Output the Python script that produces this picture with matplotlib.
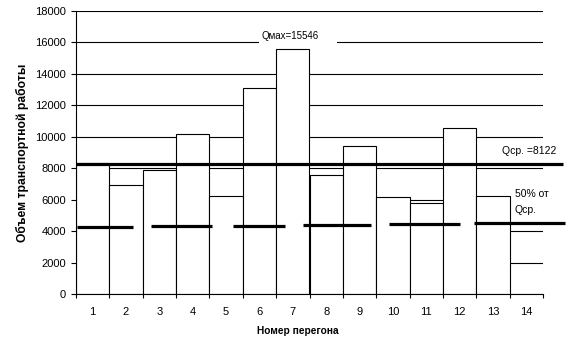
import numpy as np
import matplotlib.pyplot as plt
from matplotlib.patches import Rectangle

plt.rcParams['font.family'] = ['Liberation Sans', 'DejaVu Sans']

# transport work per section (section 14 has no bar)
sections = list(range(1, 15))
work = [8350, 6950, 7880, 10150, 6270, 13070, 15546, 7560, 9410, 6150, 5800, 10550, 6220]

q_max = 15546
q_avg = 8122
q_avg_level = 8260  # where the thick line sits in the picture

# "50% of Qavg" line is drawn as a slightly rising dashed line
half_starts = [0.52, 2.75, 5.21, 7.31, 9.88, 12.42]
half_ends = [2.20, 4.59, 6.76, 9.35, 12.02, 15.17]
half_levels = [4290, 4350, 4350, 4420, 4480, 4530]

y_ticks = list(range(0, 18001, 2000))

fig = plt.figure(figsize=(5.71, 3.45), dpi=100)
ax = fig.add_axes([76 / 571, 1 - 294.3 / 345, 467 / 571, 283.6 / 345])

ax.set_axisbelow(True)
ax.yaxis.grid(True, color='black', linewidth=0.8, zorder=0)

ax.bar(sections[:len(work)], work, width=1.0, color='white',
       edgecolor='black', linewidth=0.8, zorder=2)

# white boxes behind the notes hide the grid lines
ax.add_patch(Rectangle((5.99, 15650), 2.33, 1100, facecolor='white',
                       edgecolor='none', zorder=1.5))
ax.add_patch(Rectangle((13.52, 5650), 0.98, 900, facecolor='white',
                       edgecolor='none', zorder=1.5))

ax.plot([0.5, 15.09], [q_avg_level, q_avg_level], color='black',
        linewidth=2.3, clip_on=False, zorder=3, solid_capstyle='butt')
for x0, x1, lv in zip(half_starts, half_ends, half_levels):
    ax.plot([x0, x1], [lv, lv], color='black', linewidth=2.3,
            clip_on=False, zorder=3, solid_capstyle='butt')

ax.text(6.05, 16420, f'Qмах={q_max}', fontsize=7, va='center', ha='left', zorder=4)
ax.text(13.27, 9093, f'Qср. ={q_avg}', fontsize=7.5, va='center', ha='left',
        clip_on=False, zorder=4)
ax.text(13.65, 6345, '50% от', fontsize=7.5, va='center', ha='left',
        clip_on=False, zorder=4)
ax.text(13.65, 5349, 'Qср.', fontsize=7.5, va='center', ha='left',
        clip_on=False, zorder=4)

ax.set_xlim(0.5, 14.5)
ax.set_ylim(0, 18000)
ax.set_yticks(y_ticks)
ax.set_yticklabels([str(v) for v in y_ticks], fontsize=8)
ax.set_xticks(sections)
ax.set_xticklabels([str(s) for s in sections], fontsize=8)
ax.set_xticks(np.arange(0.5, 14.6, 1.0), minor=True)
ax.tick_params(axis='x', which='major', length=0, pad=9)
ax.tick_params(axis='x', which='minor', length=3, width=0.8, direction='out')
ax.tick_params(axis='y', length=3.6, width=0.8, pad=3.6)

for side in ['top', 'right']:
    ax.spines[side].set_visible(False)
for side in ['left', 'bottom']:
    ax.spines[side].set_linewidth(0.8)

fig.text(22 / 571, 1 - 153 / 345, 'Объем транспортной работы', rotation=90,
         fontsize=8.7, fontweight='bold', ha='center', va='center')
fig.text(298 / 571, 1 - 331 / 345, 'Номер перегона', fontsize=7.3,
         fontweight='bold', ha='center', va='center')

fig.savefig('out.png', dpi=100)
